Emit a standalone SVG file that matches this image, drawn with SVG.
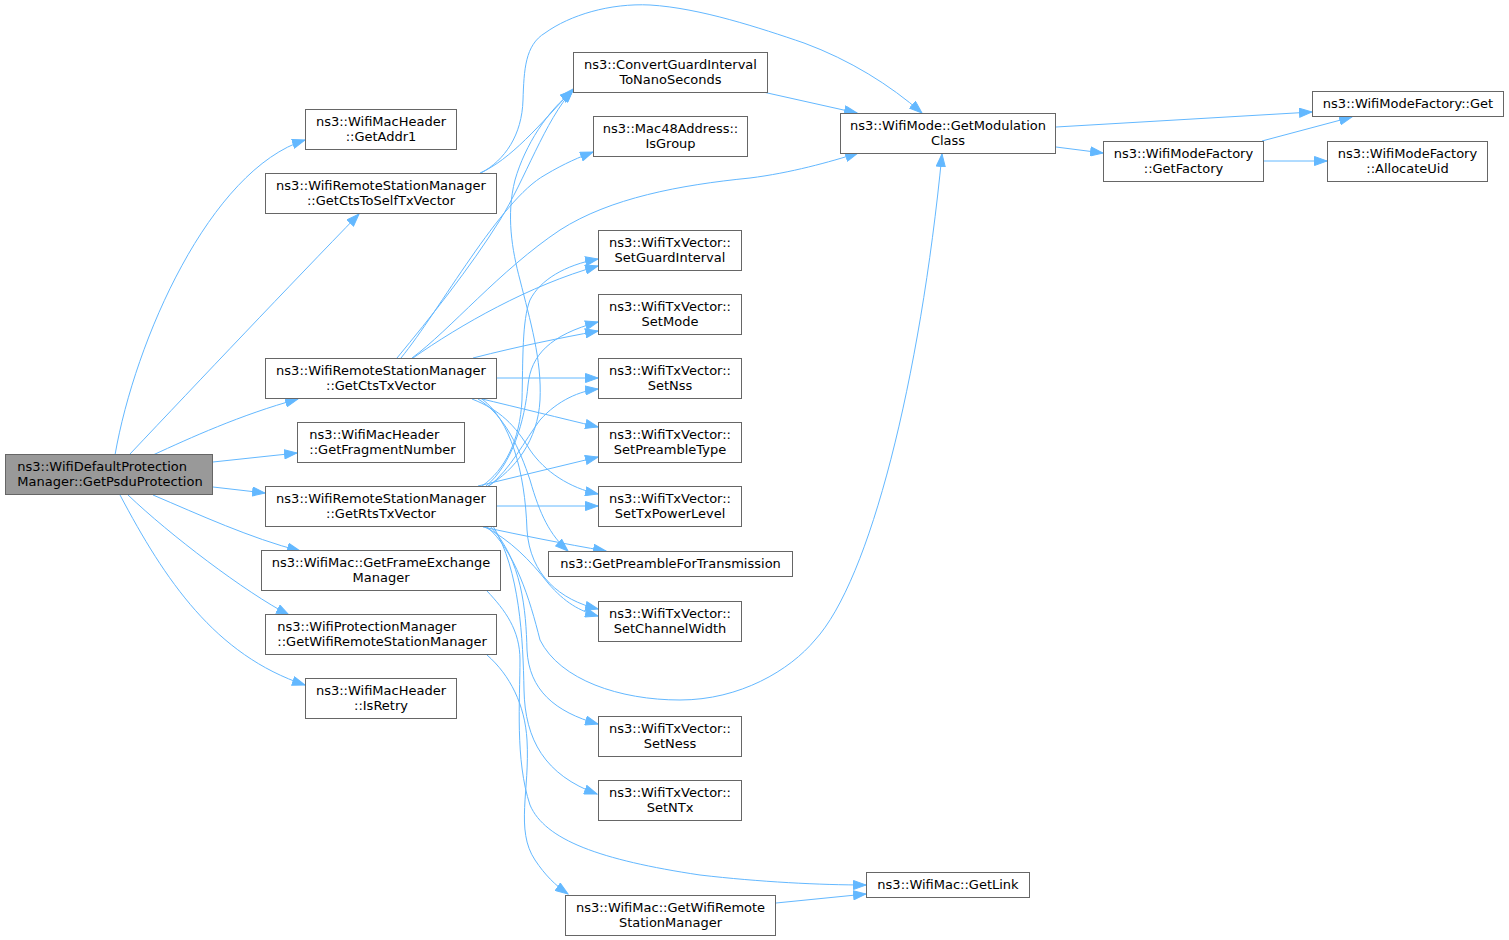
<svg xmlns="http://www.w3.org/2000/svg" width="1509" height="940" viewBox="0 0 1509 940">
<style>
.n rect{fill:#ffffff;stroke:#666666;stroke-width:1}
.n.root rect{fill:#999999}
.n text{font-family:"DejaVu Sans","Liberation Sans",sans-serif;font-size:13px;fill:#000000;text-anchor:middle}
.n text.l{text-anchor:start}
#edges path{fill:none;stroke:#63b8ff;stroke-width:1;marker-end:url(#arr)}
</style>
<defs>
<marker id="arr" markerWidth="14" markerHeight="10" refX="13" refY="5" orient="auto" markerUnits="userSpaceOnUse">
<path d="M0.5,0.5 L13,5 L0.5,9.5 z" fill="#63b8ff" stroke="#63b8ff" stroke-width="1"/>
</marker>
</defs>
<rect x="0" y="0" width="1509" height="940" fill="#ffffff"/>
<g id="edges">
<path d="M115,455 C135,340 210,170 305,140"/>
<path d="M130,454 C200,380 290,285 359,214"/>
<path d="M153,455 C190,438 240,415 298,399"/>
<path d="M213,462 L297,453"/>
<path d="M213,487 L265,493"/>
<path d="M153,495 C200,515 250,538 300,551"/>
<path d="M128,495 C170,535 245,592 289,615"/>
<path d="M120,495 C165,580 215,655 305,685"/>
<path d="M480,173 C510,160 540,125 573,89"/>
<path d="M481,173 C505,160 522,135 523,100 C524,70 525,45 545,33 C570,15 610,3 650,5 C700,8 760,28 804,43 C850,60 890,85 922,113"/>
<path d="M397,358 C430,318 470,268 500,220 C525,180 545,120 573,90"/>
<path d="M401,358 C440,310 500,200 545,175 C565,163 580,157 593,152"/>
<path d="M412,358 C450,330 500,270 560,230 C610,198 680,185 750,178 C790,173 830,162 858,153"/>
<path d="M413,358 C460,325 530,285 598,266"/>
<path d="M473,358 C520,346 560,338 598,331"/>
<path d="M497,378 L598,378"/>
<path d="M478,398 C520,408 560,418 598,427"/>
<path d="M472,399 C500,410 515,425 530,450 C545,472 570,488 598,494"/>
<path d="M478,399 C505,415 520,450 530,480 C540,515 550,535 568,551"/>
<path d="M482,399 C510,420 525,470 527,530 C530,575 560,600 598,609"/>
<path d="M488,486 C515,470 538,440 540,400 C542,360 530,320 520,280 C512,250 506,215 515,180 C525,145 548,110 573,91"/>
<path d="M486,526 C515,550 530,600 540,640 C560,680 620,700 680,700 C740,700 790,670 815,640 C870,580 920,380 942,154"/>
<path d="M482,486 C505,470 520,440 522,400 C523,360 522,320 530,300 C540,280 565,265 598,259"/>
<path d="M486,486 C512,465 525,420 528,385 C531,355 550,335 598,322"/>
<path d="M489,486 C510,470 525,440 540,420 C558,400 580,391 598,389"/>
<path d="M478,486 L598,457"/>
<path d="M497,506 L598,506"/>
<path d="M483,527 C520,535 565,544 606,551"/>
<path d="M485,527 C510,540 530,560 548,583 C565,603 580,611 598,616"/>
<path d="M490,526 C522,560 526,610 527,650 C529,690 555,712 598,724"/>
<path d="M493,526 C520,570 523,640 524,690 C525,740 545,775 597,794"/>
<path d="M487,591 C505,610 520,630 520,660 C520,700 515,760 530,805 C545,840 600,860 700,875 C760,882 820,885 866,885"/>
<path d="M487,655 C510,675 525,705 527,740 C530,790 515,830 535,860 C545,875 555,885 568,894"/>
<path d="M776,903 L866,894"/>
<path d="M763,92 L857,113"/>
<path d="M1056,127 L1312,112"/>
<path d="M1056,147 L1103,153"/>
<path d="M1262,141 L1352,117"/>
<path d="M1264,161 L1327,161"/>
</g>
<g id="A" class="n root"><rect x="5.5" y="454.5" width="207" height="40"/><text class="l" x="17.3" y="470.5">ns3::WifiDefaultProtection</text><text class="l" x="17.3" y="485.5">Manager::GetPsduProtection</text></g>
<g id="B" class="n"><rect x="305.5" y="109.5" width="151" height="40"/><text x="381" y="125.5">ns3::WifiMacHeader</text><text x="381" y="140.5">::GetAddr1</text></g>
<g id="C" class="n"><rect x="265.5" y="173.5" width="231" height="40"/><text x="381" y="189.5">ns3::WifiRemoteStationManager</text><text x="381" y="204.5">::GetCtsToSelfTxVector</text></g>
<g id="D" class="n"><rect x="265.5" y="358.5" width="231" height="40"/><text x="381" y="374.5">ns3::WifiRemoteStationManager</text><text x="381" y="389.5">::GetCtsTxVector</text></g>
<g id="E" class="n"><rect x="297.5" y="422.5" width="167" height="40"/><text class="l" x="309.3" y="438.5">ns3::WifiMacHeader</text><text class="l" x="309.3" y="453.5">::GetFragmentNumber</text></g>
<g id="F" class="n"><rect x="265.5" y="486.5" width="231" height="40"/><text x="381" y="502.5">ns3::WifiRemoteStationManager</text><text x="381" y="517.5">::GetRtsTxVector</text></g>
<g id="G" class="n"><rect x="261.5" y="550.5" width="239" height="40"/><text x="381" y="566.5">ns3::WifiMac::GetFrameExchange</text><text x="381" y="581.5">Manager</text></g>
<g id="H" class="n"><rect x="265.5" y="614.5" width="231" height="40"/><text class="l" x="277.3" y="630.5">ns3::WifiProtectionManager</text><text class="l" x="277.3" y="645.5">::GetWifiRemoteStationManager</text></g>
<g id="I" class="n"><rect x="305.5" y="678.5" width="151" height="40"/><text x="381" y="694.5">ns3::WifiMacHeader</text><text x="381" y="709.5">::IsRetry</text></g>
<g id="J" class="n"><rect x="573.5" y="52.5" width="194" height="40"/><text x="670.5" y="68.5">ns3::ConvertGuardInterval</text><text x="670.5" y="83.5">ToNanoSeconds</text></g>
<g id="K" class="n"><rect x="593.5" y="116.5" width="154" height="40"/><text x="670.5" y="132.5">ns3::Mac48Address::</text><text x="670.5" y="147.5">IsGroup</text></g>
<g id="L" class="n"><rect x="840.5" y="113.5" width="215" height="40"/><text x="948" y="129.5">ns3::WifiMode::GetModulation</text><text x="948" y="144.5">Class</text></g>
<g id="M" class="n"><rect x="598.5" y="230.5" width="143" height="40"/><text x="670" y="246.5">ns3::WifiTxVector::</text><text x="670" y="261.5">SetGuardInterval</text></g>
<g id="N" class="n"><rect x="598.5" y="294.5" width="143" height="40"/><text x="670" y="310.5">ns3::WifiTxVector::</text><text x="670" y="325.5">SetMode</text></g>
<g id="O" class="n"><rect x="598.5" y="358.5" width="143" height="40"/><text x="670" y="374.5">ns3::WifiTxVector::</text><text x="670" y="389.5">SetNss</text></g>
<g id="P" class="n"><rect x="598.5" y="422.5" width="143" height="40"/><text x="670" y="438.5">ns3::WifiTxVector::</text><text x="670" y="453.5">SetPreambleType</text></g>
<g id="Q" class="n"><rect x="598.5" y="486.5" width="143" height="40"/><text x="670" y="502.5">ns3::WifiTxVector::</text><text x="670" y="517.5">SetTxPowerLevel</text></g>
<g id="R" class="n"><rect x="548.5" y="551.5" width="244" height="25"/><text x="670.5" y="567.5">ns3::GetPreambleForTransmission</text></g>
<g id="S" class="n"><rect x="598.5" y="601.5" width="143" height="40"/><text x="670" y="617.5">ns3::WifiTxVector::</text><text x="670" y="632.5">SetChannelWidth</text></g>
<g id="T" class="n"><rect x="598.5" y="716.5" width="143" height="40"/><text x="670" y="732.5">ns3::WifiTxVector::</text><text x="670" y="747.5">SetNess</text></g>
<g id="U" class="n"><rect x="598.5" y="780.5" width="143" height="40"/><text x="670" y="796.5">ns3::WifiTxVector::</text><text x="670" y="811.5">SetNTx</text></g>
<g id="V" class="n"><rect x="866.5" y="872.5" width="163" height="25"/><text x="948" y="888.5">ns3::WifiMac::GetLink</text></g>
<g id="W" class="n"><rect x="565.5" y="895.5" width="210" height="40"/><text x="670.5" y="911.5">ns3::WifiMac::GetWifiRemote</text><text x="670.5" y="926.5">StationManager</text></g>
<g id="X" class="n"><rect x="1312.5" y="91.5" width="191" height="25"/><text x="1408" y="107.5">ns3::WifiModeFactory::Get</text></g>
<g id="Y" class="n"><rect x="1103.5" y="141.5" width="160" height="40"/><text x="1183.5" y="157.5">ns3::WifiModeFactory</text><text x="1183.5" y="172.5">::GetFactory</text></g>
<g id="Z" class="n"><rect x="1327.5" y="141.5" width="160" height="40"/><text x="1407.5" y="157.5">ns3::WifiModeFactory</text><text x="1407.5" y="172.5">::AllocateUid</text></g>
</svg>
